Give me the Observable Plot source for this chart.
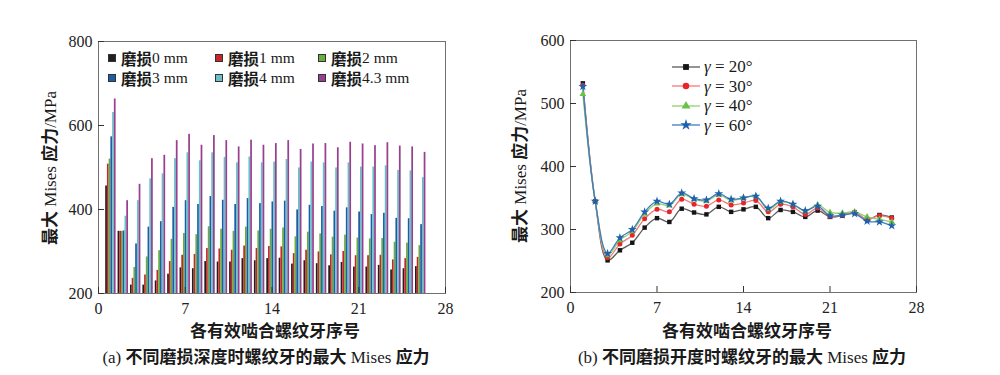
<!DOCTYPE html>
<html>
<head>
<meta charset="utf-8">
<script src="https://cdn.jsdelivr.net/npm/d3@7"></script>
<script src="https://cdn.jsdelivr.net/npm/@observablehq/plot@0.6"></script>
<style>
  body { margin: 0; background: #fff; }
  #root { position: relative; width: 1000px; height: 375px; overflow: hidden; background: #fff; }
  .abs { position: absolute; white-space: nowrap; color: #1a1a1a; line-height: 1; }
  .serif { font-family: "Liberation Serif", "DejaVu Serif", serif; font-weight: 400; }
  .cjk { font-family: "Noto Sans CJK SC", sans-serif; font-weight: 700; }
  .chart { position: absolute; top: 0; }
  .legL { display: grid; grid-template-columns: 107px 103px auto; row-gap: 4px; font-size: 15.5px; }
  .legL .it { display: flex; align-items: center; height: 16px; overflow: visible; }
  .legL .it span { display: inline-block; height: 16px; line-height: 16px; }
  .legL .sw { width: 8px; height: 8px !important; border: 1px solid #333; margin-right: 5px; box-sizing: border-box; }
  .legR { font-size: 17px; }
  .legR .it { display: flex; align-items: center; height: 19.5px; }
  .legR svg { margin-right: 4px; }
</style>
</head>
<body>
<div id="root"></div>
<script>
// ---------- data ----------
const threads = [1,2,3,4,5,6,7,8,9,10,11,12,13,14,15,16,17,18,19,20,21,22,23,24,25,26];
const xTicks = [0, 7, 14, 21, 28];

// (a) wear depth series
const wearPrefix = "磨损";
const wearDepths = ["0 mm", "1 mm", "2 mm", "3 mm", "4 mm", "4.3 mm"];
const wearColors = ["#231f20", "#c9262b", "#6aad3f", "#1d5ca6", "#68c0c8", "#983f8e"];
const wear0  = [456,348,220,220,230,246,261,259,276,275,275,283,278,283,284,270,278,271,266,274,263,263,267,256,259,264];
const wear1  = [508,348,236,244,255,276,291,293,307,306,303,313,307,312,311,295,303,299,292,300,290,290,291,280,283,286];
const wear2  = [520,348,262,287,302,329,343,340,359,353,348,358,349,353,356,335,346,342,334,339,332,330,331,322,320,314];
const wear3  = [573,349,318,358,371,405,421,412,431,422,412,426,414,418,420,399,410,407,396,404,394,388,391,379,378,364];
const wear4  = [631,384,421,473,485,521,535,516,535,524,511,525,511,513,519,499,513,511,499,511,501,501,504,493,492,476];
const wear43 = [663,421,460,521,529,564,579,553,576,564,549,565,553,557,564,543,556,557,547,560,556,552,559,551,549,536];
const yTicksL = [200, 400, 600, 800];

// (b) opening angle series
const gammaLabels = ["20°", "30°", "40°", "60°"];
const gammaSymbols = ["square", "circle", "triangle", "star"];
const gammaMarker = ["#151515", "#e8262a", "#6cc04a", "#1f5fb0"];
const gammaLine = ["#5a5a5a", "#f07a7a", "#8fd36e", "#3f7cc4"];
const gamma20 = [532,345,251,267,279,303,318,312,333,327,324,336,328,332,336,318,331,328,320,330,320,322,327,316,323,319];
const gamma30 = [529,345,255,277,291,317,332,328,348,340,337,347,339,342,346,328,340,336,324,334,321,323,327,316,322,318];
const gamma40 = [515,345,259,283,297,325,341,338,356,348,345,355,346,350,353,332,344,340,329,339,327,326,328,320,316,312];
const gamma60 = [527,345,262,287,300,328,345,340,358,349,347,357,348,350,353,334,345,340,330,337,322,323,325,313,312,306];
const yTicksR = [200, 300, 400, 500, 600];

const xTitle = "各有效啮合螺纹牙序号";
const capA = ["(a) ", "不同磨损深度时螺纹牙的最大", " Mises ", "应力"];
const capB = ["(b) ", "不同磨损开度时螺纹牙的最大", " Mises ", "应力"];

// ---------- build ----------
const root = document.getElementById("root");
const W = 500, H = 320;
const SERIF = '"Liberation Serif", "DejaVu Serif", serif';
const wearSeries = [wear0, wear1, wear2, wear3, wear4, wear43];
const wearLabels = wearDepths.map(d => wearPrefix + d);
const gammaSeries = [gamma20, gamma30, gamma40, gamma60];

function axesMarks(m, yTicks) {
  const ih = H - m.top - m.bottom, iw = W - m.left - m.right;
  return [
    Plot.frame({stroke: "#707070", strokeWidth: 1}),
    Plot.tickX(xTicks, {x: d => d, insetTop: ih - 6, stroke: "#333"}),
    Plot.tickY(yTicks, {y: d => d, insetRight: iw - 6, stroke: "#333"}),
    Plot.axisX({ticks: xTicks, tickSize: 0, tickPadding: 9, label: null, fontSize: 16}),
    Plot.axisY({ticks: yTicks, tickSize: 0, tickPadding: 6, label: null, fontSize: 16})
  ];
}

// Left chart
{
  const m = {left: 98, right: 55, top: 41, bottom: 27};
  const rows = [];
  wearSeries.forEach((vals, k) => threads.forEach((t, i) => rows.push({thread: t, k, series: wearLabels[k], value: vals[i], base: yTicksL[0]})));
  const groupW = 0.84, bw = groupW / wearSeries.length;
  const chart = Plot.plot({
    width: W, height: H,
    marginLeft: m.left, marginRight: m.right, marginTop: m.top, marginBottom: m.bottom,
    x: {domain: [0, 28]},
    y: {domain: [200, 800]},
    color: {domain: wearLabels, range: wearColors},
    style: {fontFamily: SERIF, fontSize: "16px", color: "#222", background: "transparent"},
    marks: [
      Plot.rect(rows, {
        x1: d => d.thread - groupW / 2 + d.k * bw,
        x2: d => d.thread - groupW / 2 + (d.k + 1) * bw,
        y1: "base", y2: "value", fill: "series"
      }),
      ...axesMarks(m, yTicksL)
    ]
  });
  chart.classList.add("chart");
  chart.style.left = "0px";
  root.appendChild(chart);
}

// Right chart
{
  const m = {left: 70, right: 84, top: 40, bottom: 28};
  const marks = [];
  gammaSeries.forEach((vals, k) => {
    const data = threads.map((t, i) => ({thread: t, value: vals[i]}));
    marks.push(Plot.line(data, {x: "thread", y: "value", stroke: gammaLine[k], strokeWidth: 1.3, curve: "catmull-rom"}));
  });
  gammaSeries.forEach((vals, k) => {
    const data = threads.map((t, i) => ({thread: t, value: vals[i]}));
    marks.push(Plot.dot(data, {x: "thread", y: "value", symbol: gammaSymbols[k], fill: gammaMarker[k], r: k === 3 ? 2.8 : 2.5}));
  });
  const chart = Plot.plot({
    width: W, height: H,
    marginLeft: m.left, marginRight: m.right, marginTop: m.top, marginBottom: m.bottom,
    x: {domain: [0, 28]},
    y: {domain: [200, 600]},
    style: {fontFamily: SERIF, fontSize: "16px", color: "#222", background: "transparent"},
    marks: [...marks, ...axesMarks(m, yTicksR)]
  });
  chart.classList.add("chart");
  chart.style.left = "500px";
  root.appendChild(chart);
}

// ---------- text ----------
function el(tag, cls, html, style) {
  const e = document.createElement(tag);
  e.className = cls; e.innerHTML = html; Object.assign(e.style, style || {});
  root.appendChild(e); return e;
}
const yTitleHtml = '<span class="cjk">最大</span><span class="serif"> Mises </span><span class="cjk">应力</span><span class="serif">/MPa</span>';
el("div", "abs", yTitleHtml, {left: "49px", top: "168px", fontSize: "17px", transform: "translate(-50%,-50%) rotate(-90deg)"});
el("div", "abs", yTitleHtml, {left: "519px", top: "166px", fontSize: "17px", transform: "translate(-50%,-50%) rotate(-90deg)"});
el("div", "abs cjk", xTitle, {left: "275px", top: "329px", fontSize: "17px", transform: "translate(-50%,-50%)"});
el("div", "abs cjk", xTitle, {left: "747px", top: "329px", fontSize: "17px", transform: "translate(-50%,-50%)"});
function capHtml(c) {
  return `<span class="serif">${c[0]}</span><span class="cjk">${c[1]}</span><span class="serif">${c[2]}</span><span class="cjk">${c[3]}</span>`;
}
el("div", "abs", capHtml(capA), {left: "266px", top: "356px", fontSize: "17px", transform: "translate(-50%,-50%)"});
el("div", "abs", capHtml(capB), {left: "742px", top: "356px", fontSize: "17px", transform: "translate(-50%,-50%)"});

// Left legend
{
  const items = wearDepths.map((d, k) =>
    `<div class="it"><span class="sw" style="background:${wearColors[k]}"></span><span class="cjk">${wearPrefix}</span><span class="serif">${d}</span></div>`).join("");
  el("div", "abs legL", items, {left: "108px", top: "50px"});
}
// Right legend
{
  const symMap = {square: d3.symbolSquare, circle: d3.symbolCircle, triangle: d3.symbolTriangle, star: d3.symbolStar};
  const items = gammaLabels.map((g, k) => {
    const sym = d3.symbol(symMap[gammaSymbols[k]], k === 3 ? 40 : 34)();
    return `<div class="it"><svg width="28" height="14"><line x1="0" x2="28" y1="7" y2="7" stroke="${gammaLine[k]}" stroke-width="1.3"/><path transform="translate(14,7)" d="${sym}" fill="${gammaMarker[k]}"/></svg><span class="serif"><i>γ</i> = ${g}</span></div>`;
  }).join("");
  el("div", "abs legR", items, {left: "672px", top: "57px"});
}
</script>
</body>
</html>
